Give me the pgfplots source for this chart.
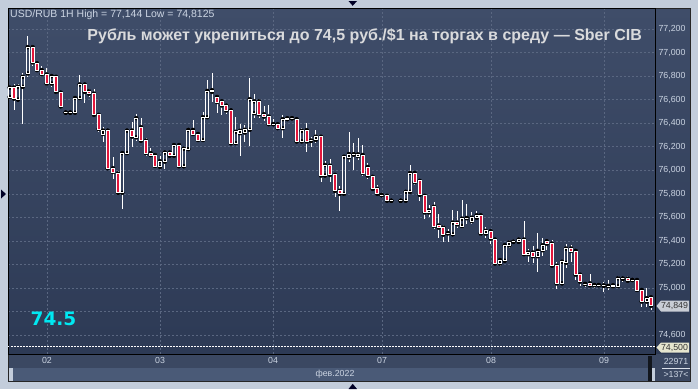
\documentclass[border=0pt]{standalone}
\usepackage{pgfplots}
\pgfplotsset{compat=1.18}
\usepackage{pgfplotstable}
\usepackage{fontspec}
\setmainfont{Liberation Sans}
\newfontfamily\dejab{DejaVu Sans}
\definecolor{frame}{HTML}{C3CDDB}
\definecolor{bgtop}{HTML}{3F4D69}
\definecolor{bgbot}{HTML}{2D3A55}
\definecolor{gridc}{HTML}{5A6781}
\definecolor{stripA}{HTML}{3B4862}
\definecolor{stripB}{HTML}{4A5A77}
\definecolor{ticktext}{HTML}{CBD4E2}
\definecolor{titletext}{HTML}{D9DADC}
\definecolor{candred}{HTML}{E3173C}
\definecolor{cyantext}{HTML}{00E8F2}
\definecolor{tagA}{HTML}{C9CDD5}
\definecolor{tagB}{HTML}{E6E6CF}
\pgfdeclareplotmark{nomark}{}
\def\yu{117.7}

\pgfplotstableread{
x o h l c
9.7 76.623 76.714 76.617 76.703
18.0 76.600 76.737 76.589 76.709
22.7 76.709 76.829 76.394 76.794
27.7 76.823 77.144 76.789 77.046
51.7 76.737 76.800 76.709 76.800
65.7 76.490 76.491 76.489 76.490
70.3 76.490 76.491 76.489 76.490
75.0 76.489 76.623 76.486 76.614
79.7 76.614 76.809 76.609 76.729
103.0 76.309 76.366 76.237 76.337
122.3 75.809 76.151 75.674 76.146
127.0 76.146 76.343 76.137 76.337
136.3 76.280 76.474 76.251 76.443
160.0 76.029 76.123 76.009 76.077
164.7 76.074 76.160 76.009 76.151
174.0 76.123 76.223 76.114 76.214
183.7 76.034 76.189 76.029 76.183
188.3 76.180 76.349 76.174 76.343
203.0 76.257 76.494 76.251 76.451
207.3 76.451 76.771 76.446 76.674
235.7 76.231 76.454 76.217 76.327
240.0 76.315 76.392 76.118 76.335
244.7 76.321 76.383 76.237 76.344
249.7 76.344 76.780 76.203 76.603
254.3 76.485 76.645 76.448 76.586
273.3 76.392 76.439 76.386 76.392
282.7 76.358 76.468 76.270 76.434
287.3 76.434 76.448 76.434 76.442
292.0 76.442 76.454 76.434 76.442
301.7 76.245 76.363 76.242 76.335
311.0 76.251 76.285 76.194 76.251
315.7 76.259 76.341 76.228 76.285
325.0 75.955 76.082 75.949 76.045
344.0 75.800 76.124 75.780 76.115
349.0 76.110 76.327 76.068 76.138
353.7 76.135 76.231 76.006 76.135
358.0 76.121 76.276 76.090 76.135
381.7 75.789 75.794 75.783 75.789
391.3 75.741 75.741 75.741 75.741
400.7 75.741 75.741 75.741 75.741
405.7 75.741 75.817 75.738 75.817
410.0 75.817 76.048 75.811 75.977
429.0 75.642 75.701 75.603 75.659
448.0 75.465 75.504 75.392 75.465
452.7 75.456 75.665 75.448 75.555
462.0 75.527 75.744 75.518 75.589
466.7 75.594 75.710 75.541 75.594
471.7 75.569 75.645 75.541 75.597
476.7 75.597 75.651 75.597 75.617
485.7 75.462 75.518 75.428 75.485
500.0 75.208 75.237 75.186 75.237
504.7 75.231 75.363 75.228 75.363
509.3 75.363 75.406 75.341 75.386
513.3 75.392 75.411 75.372 75.392
518.7 75.392 75.411 75.389 75.411
528.3 75.287 75.335 75.223 75.301
537.7 75.270 75.470 75.138 75.315
542.7 75.321 75.428 75.270 75.363
562.0 75.039 75.228 75.025 75.223
566.0 75.214 75.372 75.166 75.335
585.0 75.034 75.054 75.011 75.034
594.3 75.025 75.039 75.003 75.025
598.7 75.025 75.039 75.006 75.025
603.7 75.020 75.054 74.969 75.020
608.3 75.017 75.068 74.983 75.017
618.0 75.017 75.104 75.011 75.082
622.7 75.079 75.096 75.054 75.079
632.3 75.068 75.068 75.068 75.068
646.7 74.885 74.997 74.837 74.913
}\bull

\pgfplotstableread{
x o h l c
14.0 76.703 76.737 76.514 76.609
32.7 77.046 77.066 76.886 76.917
37.0 76.909 76.917 76.837 76.851
41.7 76.851 76.886 76.803 76.817
46.7 76.814 76.866 76.717 76.737
56.0 76.794 76.800 76.651 76.666
60.7 76.660 76.671 76.537 76.543
84.7 76.729 76.737 76.571 76.666
89.0 76.671 76.694 76.623 76.651
94.0 76.651 76.694 76.466 76.471
98.7 76.471 76.480 76.323 76.351
107.7 76.337 76.349 76.009 76.017
113.0 76.017 76.109 75.923 75.986
118.0 75.971 75.994 75.800 75.809
132.0 76.337 76.414 76.194 76.286
141.0 76.366 76.446 76.237 76.251
146.0 76.251 76.274 76.123 76.146
150.7 76.146 76.189 76.114 76.129
155.0 76.129 76.143 76.029 76.037
169.7 76.151 76.166 76.114 76.123
179.0 76.214 76.223 76.029 76.034
193.0 76.343 76.429 76.303 76.309
198.0 76.309 76.323 76.246 76.257
212.0 76.680 76.823 76.580 76.666
217.0 76.623 76.637 76.486 76.580
221.7 76.586 76.594 76.466 76.551
226.3 76.549 76.560 76.480 76.509
231.0 76.509 76.520 76.223 76.229
259.0 76.586 76.603 76.448 76.476
264.0 76.476 76.546 76.420 76.456
268.7 76.456 76.552 76.386 76.392
277.7 76.392 76.392 76.355 76.358
296.7 76.434 76.448 76.242 76.245
306.7 76.341 76.400 76.158 76.245
321.0 76.285 76.285 75.904 75.955
330.0 76.039 76.096 75.899 75.961
335.0 75.961 75.969 75.777 75.825
339.7 75.825 75.870 75.654 75.800
362.7 76.130 76.214 75.955 75.977
367.7 76.028 76.062 75.927 75.955
372.7 75.944 75.955 75.837 75.842
377.3 75.842 75.876 75.794 75.800
387.0 75.783 75.786 75.738 75.741
414.7 75.977 75.997 75.879 75.899
419.7 75.910 75.921 75.735 75.792
424.7 75.783 75.786 75.586 75.642
434.0 75.690 75.730 75.504 75.527
438.7 75.530 75.631 75.428 75.513
443.3 75.513 75.538 75.392 75.454
457.3 75.555 75.651 75.513 75.541
480.7 75.617 75.617 75.442 75.462
490.7 75.482 75.482 75.377 75.420
495.0 75.411 75.411 75.208 75.208
524.0 75.411 75.566 75.285 75.287
533.0 75.301 75.358 75.208 75.270
546.7 75.397 75.406 75.321 75.377
552.0 75.377 75.411 75.186 75.189
556.7 75.189 75.223 74.989 75.039
571.0 75.335 75.363 75.223 75.315
575.7 75.315 75.321 75.068 75.113
580.0 75.113 75.115 75.017 75.054
590.0 75.039 75.115 75.011 75.023
613.0 75.023 75.031 75.008 75.014
627.7 75.079 75.099 75.059 75.062
637.0 75.068 75.068 74.975 74.983
641.7 74.983 74.983 74.842 74.885
651.0 74.921 74.932 74.813 74.849
}\bear

\pgfplotsset{
  wick/.style={only marks, mark=none, forget plot,
    error bars/.cd, y dir=#1, y explicit, error mark=none,
    error bar style={draw=white, line width=0.9pt}},
  candle/.style={scatter, only marks, mark=nomark, forget plot,
    visualization depends on={\yu*(\thisrow{c}-\thisrow{o}) \as \hraw},
    scatter/@pre marker code/.code={%
      \begin{scope}
      \pgfkeys{/pgf/fpu=true,/pgf/fpu/output format=fixed}%
      \pgfmathparse{\hraw}\let\hh\pgfmathresult
      \pgfkeys{/pgf/fpu=false}%
      \path[draw=white, line width=0.8pt, fill=#1] (-1.55pt,0pt) rectangle (1.55pt,\hh pt);
    },
    scatter/@post marker code/.code={\end{scope}}
  }
}

\begin{document}
\begin{tikzpicture}
\begin{scope}[x=1pt,y=-1pt]
  \fill[frame] (0,0) rectangle (698,389);
  \shade[top color=bgtop, bottom color=bgbot] (8,8) rectangle (690,354);
  \fill[stripA] (8,354) rectangle (690,368);
  \fill[stripB] (13,368) rectangle (650,381);
  \fill[stripA] (655,368) rectangle (690,381);
  \fill[black!70!stripA] (648,356) rectangle (652,381);
  \draw[black!85, line width=0.8pt] (8,8) rectangle (690,381);
  \fill[black!85!blue] (348.5,1) -- (357,1) -- (352.7,5.8) -- cycle;
  \fill[black!85!blue] (348.5,389) -- (357,389) -- (352.7,383.8) -- cycle;
  \fill[black!85!blue] (1,189.5) -- (1,198.5) -- (6,194) -- cycle;
\end{scope}

\begin{axis}[
  at={(8pt,-354pt)}, anchor=south west,
  x=1pt, y=\yu pt,
  xmin=8, xmax=655, ymin=74.439, ymax=77.378,
  axis line style={draw=black, line width=0.9pt},
  xtick={47,160,273,382,491,604},
  xticklabels={02,03,04,07,08,09},
  ytick={74.6,74.8,75,75.2,75.4,75.6,75.8,76,76.2,76.4,76.6,76.8,77,77.2},
  yticklabels={{74,600},{},{75,000},{75,200},{75,400},{75,600},{75,800},{76,000},{76,200},{76,400},{76,600},{76,800},{77,000},{77,200}},
  yticklabel pos=right,
  grid=major,
  major grid style={draw=gridc, dash pattern=on 2pt off 2pt, line width=0.6pt},
  major tick length=0pt,
  tick label style={font=\fontsize{8.8}{9}\selectfont, text=ticktext},
]
\draw[white, line width=0.7pt, dash pattern=on 1.5pt off 1.5pt] (8,74.5) -- (655,74.5);
\addplot[wick=plus] table[x=x, y=c, y error plus expr=\thisrow{h}-\thisrow{c}] {\bull};
\addplot[wick=minus] table[x=x, y=o, y error minus expr=\thisrow{o}-\thisrow{l}] {\bull};
\addplot[wick=plus] table[x=x, y=o, y error plus expr=\thisrow{h}-\thisrow{o}] {\bear};
\addplot[wick=minus] table[x=x, y=c, y error minus expr=\thisrow{c}-\thisrow{l}] {\bear};
\addplot[candle=none] table[x=x, y=o] {\bull};
\addplot[candle=candred] table[x=x, y=o] {\bear};
\end{axis}

\begin{scope}[x=1pt,y=-1pt]
  \node[anchor=base west, inner sep=0pt, text=ticktext, font=\fontsize{10.5}{11}\selectfont] at (10,17.3) {USD/RUB 1H High = 77,144 Low = 74,8125};
  \node[anchor=base east, inner sep=0pt, text=titletext, font=\bfseries\fontsize{16}{18}\selectfont] at (642,40.3) {Рубль может укрепиться до 74,5 руб./\$1 на торгах в среду — Sber CIB};
  \node[anchor=base west, inner sep=0pt, text=cyantext, font=\dejab\bfseries\fontsize{18.5}{20}\selectfont] at (30.5,325) {74.5};
  \fill[tagA] (656.5,306) -- (661,300.5) -- (689,300.5) -- (689,311.5) -- (661,311.5) -- cycle;
  \node[anchor=center, inner sep=0pt, text=black!80, font=\fontsize{8.8}{9}\selectfont] at (674.5,306.3) {74,849};
  \fill[tagB] (656.5,347.5) -- (661,342.5) -- (689,342.5) -- (689,352.5) -- (661,352.5) -- cycle;
  \node[anchor=center, inner sep=0pt, text=black!80, font=\fontsize{8.8}{9}\selectfont] at (674.5,347.7) {74,500};
  \node[anchor=center, inner sep=0pt, text=ticktext, font=\fontsize{8.8}{9}\selectfont] at (335,374.5) {фев.2022};
  \node[anchor=center, inner sep=0pt, text=ticktext, font=\fontsize{8.8}{9}\selectfont] at (676,361.5) {22971};
  \draw[ticktext!70, line width=0.5pt] (662,368) -- (690,368);
  \node[anchor=center, inner sep=0pt, text=ticktext, font=\fontsize{8.8}{9}\selectfont] at (676,374.5) {>137<};
\end{scope}
\pgfresetboundingbox
\path[use as bounding box] (0pt,0pt) rectangle (698pt,-389pt);
\end{tikzpicture}
\end{document}
